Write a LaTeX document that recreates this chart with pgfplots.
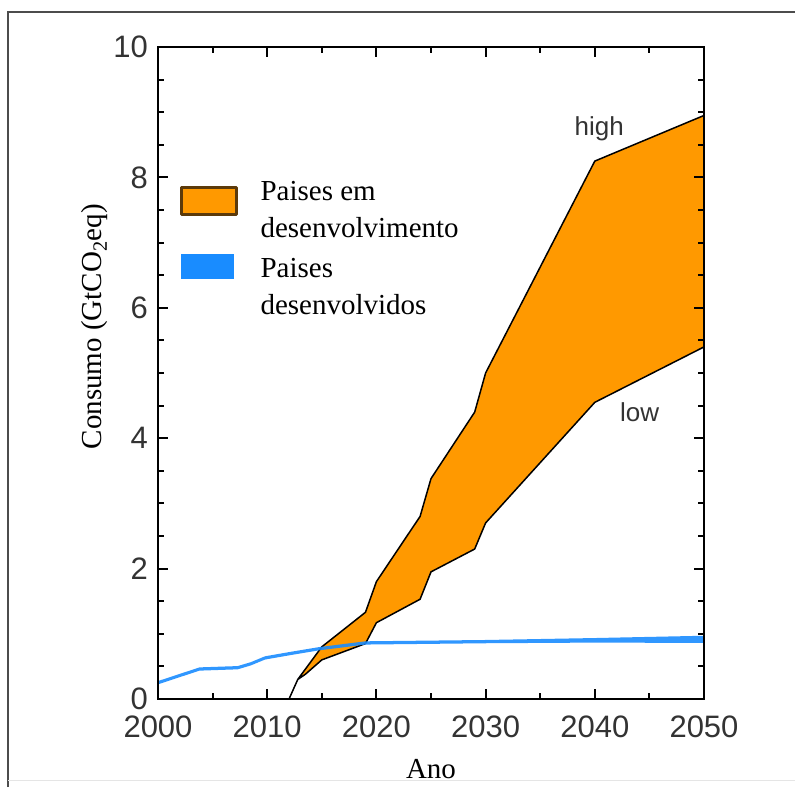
\documentclass[border=0pt]{standalone}
\usepackage{fontspec}
\setmainfont{Liberation Serif}
\newfontfamily\helv{Liberation Sans}
\usepackage{pgfplots}
\pgfplotsset{compat=1.18}
\definecolor{orng}{RGB}{255,153,0}
\definecolor{blu}{RGB}{25,140,255}
\definecolor{blulg}{RGB}{0,128,255}
\definecolor{brn}{RGB}{92,58,10}
\definecolor{txtg}{RGB}{51,51,51}
\begin{document}
\begin{tikzpicture}[x=1pt,y=1pt]
\useasboundingbox (0,0) rectangle (795,787);
\draw[line width=2pt, black!70] (8,0) -- (8,775) -- (795,775);
\draw[line width=1pt, black!10] (8,7) -- (795,7);
\begin{axis}[
  at={(158pt,88pt)}, anchor=south west, scale only axis,
  width=546pt, height=652pt,
  xmin=2000, xmax=2050, ymin=0, ymax=10,
  xtick={2000,2010,2020,2030,2040,2050}, ytick={0,2,4,6,8,10},
  minor xtick={2005,2015,2025,2035,2045},
  minor ytick={0.5,1,1.5,2.5,3,3.5,4.5,5,5.5,6.5,7,7.5,8.5,9,9.5},
  tick align=inside, major tick length=10pt, minor tick length=6pt,
  tick style={line width=2pt, black},
  axis line style={line width=2.5pt, black},
  axis on top=true,
  /pgf/number format/assume math mode=true,
  ticklabel style={font=\helv\fontsize{31}{31}\selectfont, text=txtg},
  xticklabel style={inner sep=0pt, yshift=-17pt, /pgf/number format/1000 sep={}},
  yticklabel style={inner sep=0pt, xshift=-10pt},
  xlabel={Ano},
  xlabel style={font=\fontsize{29}{29}\selectfont, at={(rel axis cs:0.5,0)}, anchor=base, yshift=-79pt},
  ylabel={Consumo (GtCO\textsubscript{2}eq)},
  ylabel style={font=\fontsize{29}{29}\selectfont, at={(rel axis cs:-0.1154,0.571)}, anchor=center},
  legend style={at={(rel axis cs:0.04,0.804)}, anchor=north west, draw=none, fill=none, inner sep=0pt,
    row sep=32pt, column sep=23pt, font=\fontsize{29}{37}\selectfont, nodes={inner sep=0pt}},
  legend cell align=left,
]
\addplot[fill=orng, draw=black, line width=1.5pt, line join=round,
  legend image code/.code={\draw[fill=orng, draw=brn, line width=2.5pt] (0pt,-17.3pt) rectangle (55pt,9.7pt);}]
  coordinates {
 (2000,0) (2012,0) (2012.8,0.3) (2015,0.8) (2019,1.33) (2020,1.8) (2024,2.8) (2025,3.38) (2029,4.4) (2030,5.0) (2040,8.25) (2050,8.95)
 (2050,5.4) (2040,4.55) (2030,2.7) (2029,2.3) (2025,1.95) (2024,1.53) (2020,1.17) (2019,0.85) (2015,0.6) (2013.5,0.38) (2012.8,0.3) (2012,0) } -- cycle;
\addlegendentry{\begin{tabular}{@{}l@{}}Paises em\\desenvolvimento\end{tabular}}
\addplot[fill=blu, draw=none, opacity=0.9,
  legend image code/.code={\fill[blulg] (0pt,-5pt) rectangle (53pt,20pt);}]
  coordinates {
 (2000,0.275) (2003.8,0.485) (2007.3,0.505) (2008.5,0.565) (2009.8,0.655) (2012.2,0.725) (2014.7,0.795) (2019,0.885) (2030,0.905) (2040,0.935) (2050,0.97)
 (2050,0.86) (2040,0.865) (2030,0.855) (2019,0.835) (2014.7,0.745) (2012.2,0.675) (2009.8,0.605) (2008.5,0.515) (2007.3,0.455) (2003.8,0.435) (2000,0.225) } -- cycle;
\addlegendentry{\begin{tabular}{@{}l@{}}Paises\\desenvolvidos\end{tabular}}
\node[font=\helv\fontsize{26}{26}\selectfont, text=txtg, anchor=base] at (axis cs:2040.4,8.65) {high};
\node[font=\helv\fontsize{26}{26}\selectfont, text=txtg, anchor=base] at (axis cs:2044.1,4.25) {low};
\end{axis}
\end{tikzpicture}
\end{document}
